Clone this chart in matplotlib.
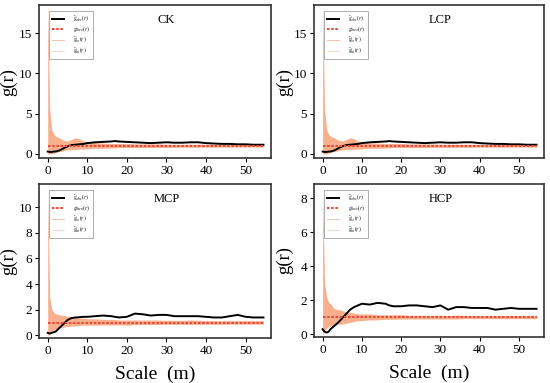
import numpy as np
import matplotlib.pyplot as plt

plt.rcParams['font.family'] = ['Liberation Serif', 'DejaVu Serif']
plt.rcParams['mathtext.fontset'] = 'stix'

# distance (m) at which values were read
r_pts = [0, 0.5, 1, 1.5, 2, 3, 4, 5, 6, 7, 8, 9, 10, 12, 14, 16, 17, 18, 20, 22, 24, 26,
         28, 30, 32, 34, 36, 38, 40, 42, 44, 46, 48, 50, 52, 54.5]

# CK / LCP (almost identical)
ck_obs = [0.3, 0.25, 0.25, 0.3, 0.3, 0.45, 0.7, 0.95, 1.1, 1.15, 1.2, 1.25, 1.35, 1.45, 1.5, 1.55, 1.6, 1.55, 1.5,
          1.45, 1.4, 1.35, 1.4, 1.45, 1.4, 1.4, 1.45, 1.45, 1.35, 1.3, 1.25, 1.25, 1.2, 1.2, 1.15, 1.15]
ck_hi = [19, 5.5, 3.0, 2.5, 2.2, 2.0, 1.7, 1.6, 1.8, 2.0, 1.9, 1.6, 1.5, 1.4, 1.35, 1.3, 1.3, 1.3, 1.3,
         1.25, 1.25, 1.25, 1.25, 1.2, 1.2, 1.2, 1.2, 1.2, 1.2, 1.2, 1.2, 1.15, 1.15, 1.15, 1.15, 1.15]
ck_lo = [0, 0, 0, 0.1, 0.2, 0.3, 0.4, 0.5, 0.55, 0.55, 0.6, 0.6, 0.65, 0.7, 0.7, 0.75, 0.75, 0.8, 0.8,
         0.8, 0.8, 0.8, 0.82, 0.82, 0.82, 0.84, 0.84, 0.84, 0.85, 0.85, 0.85, 0.85, 0.86, 0.86, 0.86, 0.86]

lcp_obs = [0.3, 0.25, 0.25, 0.3, 0.3, 0.45, 0.7, 0.95, 1.1, 1.15, 1.2, 1.25, 1.35, 1.45, 1.5, 1.55, 1.6, 1.55, 1.5,
           1.45, 1.4, 1.35, 1.4, 1.45, 1.4, 1.4, 1.45, 1.45, 1.35, 1.3, 1.25, 1.25, 1.2, 1.2, 1.15, 1.15]
lcp_hi = ck_hi
lcp_lo = ck_lo

# MCP
mcp_obs = [0.2, 0.15, 0.2, 0.25, 0.3, 0.6, 0.9, 1.2, 1.35, 1.4, 1.42, 1.45, 1.45, 1.5, 1.55, 1.5, 1.45, 1.4, 1.45,
           1.7, 1.65, 1.55, 1.6, 1.6, 1.5, 1.5, 1.5, 1.5, 1.45, 1.4, 1.4, 1.5, 1.6, 1.45, 1.4, 1.4]
mcp_hi = [11, 3.0, 2.1, 1.8, 1.7, 1.6, 1.55, 1.5, 1.45, 1.4, 1.35, 1.35, 1.3, 1.3, 1.25, 1.25, 1.25, 1.2, 1.2,
          1.2, 1.2, 1.2, 1.2, 1.18, 1.18, 1.18, 1.2, 1.18, 1.15, 1.15, 1.15, 1.15, 1.15, 1.15, 1.15, 1.15]
mcp_lo = [0, 0.1, 0.3, 0.4, 0.5, 0.6, 0.65, 0.7, 0.72, 0.75, 0.78, 0.8, 0.8, 0.8, 0.82, 0.82, 0.82, 0.82, 0.8,
          0.84, 0.85, 0.85, 0.85, 0.86, 0.86, 0.86, 0.86, 0.86, 0.87, 0.87, 0.87, 0.87, 0.88, 0.88, 0.88, 0.88]

# HCP
hcp_obs = [0.3, 0.15, 0.1, 0.15, 0.3, 0.5, 0.7, 0.95, 1.2, 1.45, 1.6, 1.7, 1.8, 1.75, 1.85, 1.8, 1.7, 1.65, 1.65,
           1.7, 1.7, 1.65, 1.6, 1.7, 1.45, 1.6, 1.6, 1.55, 1.55, 1.55, 1.45, 1.5, 1.55, 1.5, 1.5, 1.5]
hcp_hi = [8.5, 3.0, 2.2, 1.9, 1.8, 1.5, 1.45, 1.4, 1.3, 1.3, 1.25, 1.2, 1.2, 1.2, 1.15, 1.15, 1.15, 1.15, 1.15,
          1.12, 1.12, 1.12, 1.12, 1.12, 1.1, 1.12, 1.12, 1.1, 1.1, 1.1, 1.1, 1.1, 1.1, 1.1, 1.1, 1.1]
hcp_lo = [0, 0.2, 0.35, 0.45, 0.5, 0.55, 0.6, 0.6, 0.65, 0.7, 0.75, 0.8, 0.8, 0.85, 0.85, 0.88, 0.88, 0.88, 0.9,
          0.9, 0.9, 0.9, 0.9, 0.9, 0.9, 0.9, 0.92, 0.92, 0.92, 0.92, 0.92, 0.92, 0.92, 0.92, 0.92, 0.92]

theo = 1.0

panels = ['CK', 'LCP', 'MCP', 'HCP']
obs_all = [ck_obs, lcp_obs, mcp_obs, hcp_obs]
hi_all = [ck_hi, lcp_hi, mcp_hi, hcp_hi]
lo_all = [ck_lo, lcp_lo, mcp_lo, hcp_lo]
ylims = [(-0.5, 18.5), (-0.5, 18.5), (-0.2, 11.8), (-0.16, 8.85)]
yticks = [[0, 5, 10, 15], [0, 5, 10, 15], [0, 2, 4, 6, 8, 10], [0, 2, 4, 6, 8]]

W, H = 550, 383
boxes = [(39, 5, 271, 158), (314, 5, 544, 158), (39, 184, 271, 338), (314, 184, 544, 337)]

fig = plt.figure(figsize=(5.5, 3.83), dpi=100)

for i in range(4):
    x0, y0, x1, y1 = boxes[i]
    ax = fig.add_axes([x0 / W, 1 - y1 / H, (x1 - x0) / W, (y1 - y0) / H])
    ax.fill_between(r_pts, lo_all[i], hi_all[i], color='#f8b08c', lw=0, zorder=1)
    ax.plot(r_pts, obs_all[i], color='black', lw=1.4, zorder=3, label=r'$\hat{g}_{obs}(r)$')
    ax.plot([r_pts[0], r_pts[-1]], [theo, theo], color='#e84a3c', lw=1.5, ls=(0, (1.2, 0.8)), zorder=4,
            label=r'$g_{theo}(r)$')
    ax.plot([], [], color='#f5b7a8', lw=0.6, label=r'$\hat{g}_{lo}(r)$')
    ax.plot([], [], color='#f3d3c5', lw=0.6, label=r'$\hat{g}_{hi}(r)$')

    ax.set_xlim(-2.2, 56.4)
    ax.set_ylim(*ylims[i])
    ax.set_xticks([0, 10, 20, 30, 40, 50])
    ax.set_yticks(yticks[i])
    ax.tick_params(direction='out', length=3, width=0.8, labelsize=9.5, pad=2)
    for s in ax.spines.values():
        s.set_color('#333333')
        s.set_linewidth(1.2)

    ax.text(0.55, 0.9, panels[i], transform=ax.transAxes, fontsize=9, ha='center', va='center')
    leg = ax.legend(loc='upper left', bbox_to_anchor=(0.03, 0.98), fontsize=4, frameon=True,
                    fancybox=False, edgecolor='#888888', handlelength=2.2, labelspacing=0.15,
                    borderpad=0.6, handletextpad=1.5)
    leg.get_frame().set_linewidth(0.6)

    ax.set_ylabel('g(r)', fontsize=13.5, va='center')
    ax.yaxis.set_label_coords(-0.13, 0.5)
    if i >= 2:
        ax.set_xlabel('Scale  (m)', fontsize=14, labelpad=6)

fig.savefig('out.png', dpi=100)
